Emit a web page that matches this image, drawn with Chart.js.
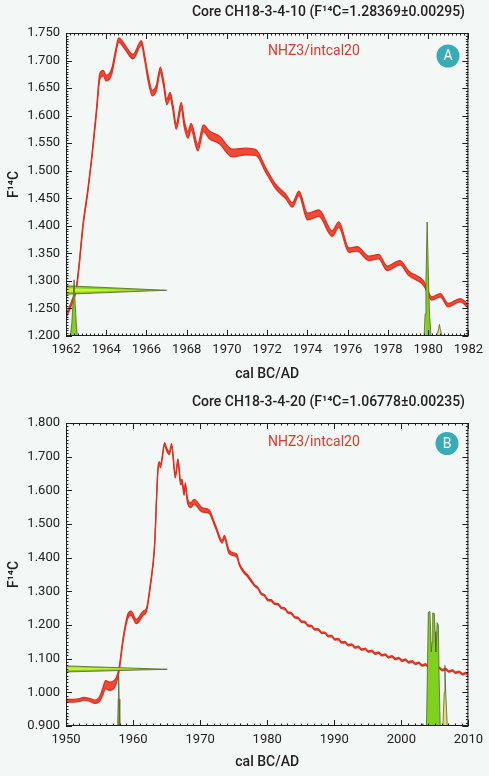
<!DOCTYPE html>
<html><head><meta charset="utf-8">
<script src="https://cdn.jsdelivr.net/npm/chart.js@4.4.0/dist/chart.umd.min.js"></script>
<style>
html,body{margin:0;padding:0;background:#f3f7f6;}
canvas{display:block;}
</style></head><body>
<canvas id="ca" width="489" height="390"></canvas>
<canvas id="cb" width="489" height="386"></canvas>
<script>
// ---------- Panel A data ----------
const titleA = 'Core CH18-3-4-10 (F\u00B9\u2074C=1.28369\u00B10.00295)';
const yearsA = [1962.0,1962.3,1962.53,1962.86,1963.09,1963.3,1963.52,1963.68,1963.85,1964.0,1964.27,1964.45,1964.62,1964.92,1965.33,1965.75,1965.9,1966.07,1966.29,1966.49,1966.69,1966.85,1967.01,1967.18,1967.31,1967.48,1967.73,1967.89,1968.06,1968.22,1968.55,1968.83,1969.13,1969.62,1970.27,1970.94,1971.44,1971.93,1972.43,1972.93,1973.25,1973.58,1974.0,1974.57,1975.23,1975.56,1976.06,1976.47,1977.05,1977.54,1977.96,1978.6,1979.03,1979.77,1980.18,1980.6,1981.0,1981.59,1982.0];
const f14cA = [1.235,1.262,1.290,1.405,1.465,1.530,1.610,1.671,1.677,1.668,1.680,1.712,1.737,1.725,1.707,1.732,1.707,1.671,1.641,1.650,1.683,1.659,1.625,1.637,1.616,1.580,1.618,1.583,1.565,1.580,1.542,1.577,1.565,1.556,1.532,1.535,1.533,1.501,1.471,1.453,1.438,1.459,1.417,1.423,1.386,1.402,1.356,1.358,1.341,1.344,1.323,1.333,1.314,1.296,1.268,1.274,1.256,1.265,1.254];
const errA = [0.003,0.003,0.003,0.003,0.003,0.003,0.004,0.005,0.005,0.005,0.005,0.004,0.004,0.004,0.004,0.004,0.004,0.005,0.005,0.005,0.005,0.005,0.005,0.005,0.005,0.005,0.006,0.006,0.006,0.006,0.006,0.006,0.007,0.007,0.007,0.006,0.005,0.004,0.004,0.004,0.004,0.004,0.006,0.006,0.005,0.005,0.004,0.004,0.004,0.004,0.004,0.004,0.004,0.004,0.003,0.003,0.003,0.003,0.003];
// measured F14C distribution drawn on the y axis (x = extent in years, y = F14C)
const measAx = [1962.0, 1967.0, 1962.0];
const measAy = [1.2912, 1.2830, 1.2758];
const measAinX = [1962.0, 1965.6, 1962.0];
const measAinY = [1.2868, 1.2832, 1.2800];
// calibrated probability peaks
const peakA1x = [1962.22,1962.29,1962.34,1962.40,1962.46,1962.51,1962.56];
const peakA1y = [1.200,1.224,1.255,1.302,1.255,1.224,1.200];
const peakA2x = [1979.80,1979.85,1979.89,1979.95,1980.02,1980.07,1980.14];
const peakA2y = [1.200,1.240,1.300,1.407,1.300,1.240,1.200];
const peakA2bx = [1979.80,1979.84,1979.88,1979.86,1979.80];
const peakA2by = [1.200,1.214,1.228,1.200,1.200];
const peakA3x = [1980.42,1980.51,1980.56,1980.61,1980.70];
const peakA3y = [1.200,1.211,1.221,1.211,1.200];

// ---------- Panel B data ----------
const titleB = 'Core CH18-3-4-20 (F\u00B9\u2074C=1.06778\u00B10.00235)';
const yearsB = [1950.0,1951.0,1952.0,1952.6,1953.5,1954.3,1955.0,1955.5,1955.9,1956.5,1957.3,1957.9,1958.5,1959.2,1959.7,1960.5,1961.5,1962.0,1962.55,1963.2,1963.7,1963.9,1964.1,1964.7,1965.0,1965.4,1965.75,1966.3,1966.7,1967.1,1967.3,1967.6,1967.8,1968.1,1968.6,1969.1,1970.3,1971.3,1972.3,1973.3,1973.6,1974.3,1975.0,1975.5,1975.8,1976.5,1977.0,1977.7,
  1978.1,1978.6,1979.1,1979.6,1980.1,1980.6,1981.1,1981.6,1982.1,1982.6,1983.1,1983.6,1984.1,1984.6,1985.1,1985.6,1986.1,1986.6,1987.1,1987.6,1988.1,1988.6,1989.1,1989.6,1990.1,1990.6,1991.1,1991.6,1992.1,1992.6,1993.1,1993.6,1994.1,1994.6,1995.1,1995.6,1996.1,1996.6,1997.1,1997.6,1998.1,1998.6,1999.1,1999.6,2000.1,2000.6,2001.1,2001.6,2002.1,2002.6,2003.1,2003.6,2004.1,2004.6,2005.1,2005.6,2006.1,2006.6,2007.1,2007.6,2008.1,2008.6,2009.1,2009.6,2010.0];
const f14cB = [0.975,0.975,0.977,0.981,0.978,0.972,0.980,1.003,1.023,1.018,1.027,1.066,1.155,1.225,1.235,1.210,1.235,1.245,1.314,1.433,1.660,1.680,1.672,1.738,1.722,1.710,1.735,1.642,1.688,1.621,1.628,1.591,1.616,1.571,1.556,1.566,1.542,1.537,1.492,1.447,1.462,1.418,1.410,1.405,1.383,1.358,1.348,1.329,
  1.318,1.310,1.293,1.288,1.274,1.273,1.263,1.262,1.251,1.249,1.237,1.235,1.223,1.221,1.210,1.209,1.198,1.197,1.187,1.187,1.177,1.177,1.167,1.167,1.157,1.158,1.148,1.149,1.140,1.142,1.133,1.135,1.127,1.129,1.121,1.123,1.115,1.118,1.110,1.112,1.104,1.107,1.099,1.102,1.094,1.097,1.089,1.092,1.085,1.088,1.080,1.083,1.075,1.078,1.070,1.073,1.066,1.069,1.062,1.065,1.058,1.061,1.054,1.057,1.052];
const errB = [0.004,0.004,0.004,0.004,0.004,0.005,0.007,0.010,0.012,0.012,0.010,0.006,0.005,0.006,0.006,0.006,0.006,0.005,0.004,0.004,0.004,0.005,0.005,0.004,0.004,0.004,0.004,0.005,0.005,0.005,0.005,0.006,0.006,0.006,0.007,0.007,0.006,0.005,0.004,0.004,0.004,0.005,0.004,0.004,0.003,0.003,0.003,0.003,
  0.002,0.002,0.002,0.002,0.002,0.002,0.002,0.002,0.002,0.002,0.002,0.002,0.002,0.002,0.002,0.002,0.002,0.002,0.002,0.002,0.002,0.002,0.002,0.002,0.002,0.002,0.002,0.002,0.002,0.002,0.002,0.002,0.002,0.002,0.002,0.002,0.002,0.002,0.002,0.002,0.002,0.002,0.002,0.002,0.002,0.002,0.002,0.002,0.002,0.002,0.002,0.002,0.002,0.002,0.002,0.002,0.002,0.002,0.002,0.002,0.002,0.002,0.002,0.002,0.002];
const measBx = [1950.0, 1965.1, 1950.0];
const measBy = [1.0785, 1.0685, 1.0605];
const measBinX = [1950.0, 1961.0, 1950.0];
const measBinY = [1.0745, 1.0690, 1.0660];
const peakB1x = [1957.70,1957.79,1957.85,1957.92,1958.02];
const peakB1y = [0.900,0.980,1.049,0.980,0.900];
const peakB2x = [2003.75,2003.92,2004.02,2004.26,2004.38,2004.47,2004.58,2004.68,2004.92,2005.04,2005.14,2005.24,2005.34,2005.52,2005.64,2005.80];
const peakB2y = [0.900,1.100,1.238,1.240,1.180,1.120,1.150,1.236,1.234,1.180,1.120,1.150,1.207,1.200,1.040,0.900];
const peakB3x = [2006.20,2006.40,2006.50,2006.62,2006.85];
const peakB3y = [0.900,1.000,1.080,1.000,0.900];
const peakB4x = [2003.05,2003.20,2003.35];
const peakB4y = [0.900,0.907,0.900];

// ---------- styles ----------
const RED_LINE = '#e2301f';
const RED_FILL = '#ef4a38';
const GREEN = '#7fd11f';
const GREEN_IN = '#d2ef3c';
const OLIVE = '#55622a';
const YELLOW = '#e6dc6a';
const TXT = '#222222';

const pts = (xs, ys) => xs.map((x, i) => ({x: x, y: ys[i]}));
const band = (xs, ys, es, s) => xs.map((x, i) => ({x: x, y: ys[i] + s * es[i]}));

const decor = {
  id: 'decor',
  afterDatasetsDraw(chart, args, o) {
    const {ctx, chartArea: a, scales: {x, y}} = chart;
    ctx.save();
    ctx.strokeStyle = '#1e1e1e';
    ctx.lineWidth = 1;
    ctx.strokeRect(a.left + 0.5, a.top + 0.5, a.right - a.left - 1, a.bottom - a.top - 1);
    ctx.beginPath();
    const nx = Math.round((o.xmax - o.xmin) / o.xstep);
    for (let i = 0; i <= nx * 10; i++) {
      const v = o.xmin + i * o.xstep / 10;
      const px = Math.round(x.getPixelForValue(v)) + 0.5;
      const L = (i % 10 === 0) ? 6 : 2.5;
      ctx.moveTo(px, a.bottom); ctx.lineTo(px, a.bottom - L);
      ctx.moveTo(px, a.top); ctx.lineTo(px, a.top + L);
    }
    const ny = Math.round((o.ymax - o.ymin) / o.ystep);
    for (let i = 0; i <= ny * 10; i++) {
      const v = o.ymin + i * o.ystep / 10;
      const py = Math.round(y.getPixelForValue(v)) + 0.5;
      const L = (i % 10 === 0) ? 6 : 2.5;
      ctx.moveTo(a.left, py); ctx.lineTo(a.left + L, py);
      ctx.moveTo(a.right, py); ctx.lineTo(a.right - L, py);
    }
    ctx.stroke();
    // title
    ctx.fillStyle = TXT;
    ctx.font = '500 14px Roboto';
    ctx.textAlign = 'right';
    ctx.textBaseline = 'middle';
    ctx.fillText(o.title, 465, o.titleY);
    // series label
    ctx.fillStyle = '#e3372a';
    ctx.font = '14px Roboto';
    ctx.textAlign = 'left';
    ctx.fillText(o.label, 268, o.labelY);
    // badge
    ctx.fillStyle = '#3aaab6';
    ctx.beginPath();
    ctx.arc(o.bx, o.by, 11.5, 0, Math.PI * 2);
    ctx.fill();
    ctx.fillStyle = '#ffffff';
    ctx.font = '14px Roboto';
    ctx.textAlign = 'center';
    ctx.fillText(o.badge, o.bx, o.by + 0.5);
    ctx.restore();
  }
};

function makeChart(id, o) {
  const H = document.getElementById(id).height;
  const ds = [
    {data: band(o.years, o.f, o.err, 1), borderColor: RED_LINE, borderWidth: 1.3, fill: false, order: 10, cubicInterpolationMode: 'monotone'},
    {data: band(o.years, o.f, o.err, -1), borderColor: RED_LINE, borderWidth: 1.3, backgroundColor: RED_FILL, fill: '-1', order: 10, cubicInterpolationMode: 'monotone'}
  ];
  o.shapes.forEach(s => ds.push({
    data: pts(s.x, s.y), fill: 'shape', backgroundColor: s.fill,
    borderColor: s.line || 'rgba(0,0,0,0)', borderWidth: s.line ? 0.8 : 0,
    order: s.order, tension: 0
  }));
  return new Chart(document.getElementById(id), {
    type: 'line',
    data: {datasets: ds},
    options: {
      responsive: false, animation: false,
      layout: {padding: {top: 33, right: o.padR, left: 0, bottom: 0}},
      elements: {point: {radius: 0, hoverRadius: 0}},
      plugins: {legend: {display: false}, tooltip: {enabled: false}, decor: o},
      scales: {
        x: {
          type: 'linear', min: o.xmin, max: o.xmax,
          grid: {display: false, drawTicks: false}, border: {display: false},
          ticks: {stepSize: o.xstep, autoSkip: false, maxRotation: 0, padding: 6, color: TXT,
                  font: {family: 'Roboto', size: 13}, callback: v => String(v)},
          title: {display: true, text: 'cal BC/AD', color: TXT,
                  font: {family: 'Roboto', size: 14, weight: '500'}, padding: {top: 0, bottom: o.xtPad}},
          afterFit: s => { s.height = H - 336; }
        },
        y: {
          type: 'linear', min: o.ymin, max: o.ymax,
          grid: {display: false, drawTicks: false}, border: {display: false},
          ticks: {stepSize: o.ystep, autoSkip: false, padding: 6, color: TXT,
                  font: {family: 'Roboto', size: 13}, callback: v => v.toFixed(3)},
          title: {display: true, text: 'F\u00B9\u2074C', color: TXT,
                  font: {family: 'Roboto', size: 14, weight: '500'}, padding: {top: 5.6, bottom: 0}},
          afterFit: s => { s.width = 66; }
        }
      }
    },
    plugins: [decor]
  });
}

makeChart('ca', {
  title: titleA, titleY: 12.5, label: 'NHZ3/intcal20', labelY: 51, badge: 'A', bx: 448, by: 56,
  xmin: 1962, xmax: 1982, xstep: 2, ymin: 1.2, ymax: 1.75, ystep: 0.05, padR: 19, xtPad: 7.6,
  years: yearsA, f: f14cA, err: errA,
  shapes: [
    {x: measAx, y: measAy, fill: GREEN, line: OLIVE, order: 4},
    {x: measAinX, y: measAinY, fill: GREEN_IN, order: 3},
    {x: peakA1x, y: peakA1y, fill: GREEN, line: OLIVE, order: 2},
    {x: peakA2x, y: peakA2y, fill: GREEN, line: OLIVE, order: 2},
    {x: peakA2bx, y: peakA2by, fill: YELLOW, order: 1},
    {x: peakA3x, y: peakA3y, fill: YELLOW, line: OLIVE, order: 1}
  ]
});

makeChart('cb', {
  title: titleB, titleY: 12.8, label: 'NHZ3/intcal20', labelY: 52, badge: 'B', bx: 447, by: 53.5,
  xmin: 1950, xmax: 2010, xstep: 10, ymin: 0.9, ymax: 1.8, ystep: 0.1, padR: 18, xtPad: 5.1,
  years: yearsB, f: f14cB, err: errB,
  shapes: [
    {x: measBx, y: measBy, fill: GREEN, line: OLIVE, order: 4},
    {x: measBinX, y: measBinY, fill: GREEN_IN, order: 3},
    {x: peakB1x, y: peakB1y, fill: '#a89a45', line: OLIVE, order: 2},
    {x: peakB2x, y: peakB2y, fill: GREEN, line: OLIVE, order: 2},
    {x: peakB3x, y: peakB3y, fill: YELLOW, line: OLIVE, order: 1},
    {x: peakB4x, y: peakB4y, fill: OLIVE, line: OLIVE, order: 1}
  ]
});
</script>
</body></html>
